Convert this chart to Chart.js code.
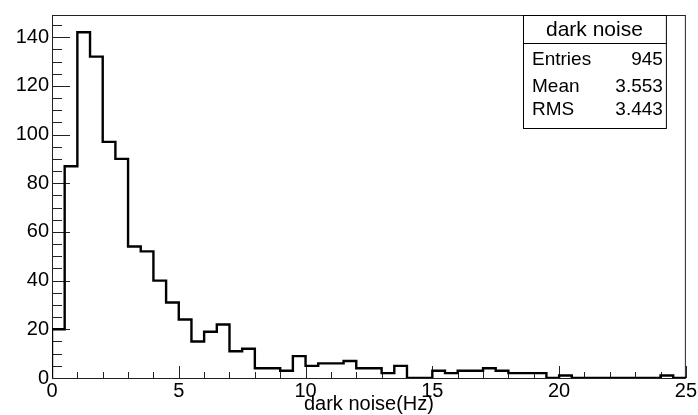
<!DOCTYPE html>
<html>
<head>
<meta charset="utf-8">
<script src="https://cdn.jsdelivr.net/npm/chart.js@4.4.0/dist/chart.umd.min.js"></script>
<style>
  html, body { margin: 0; padding: 0; background: #fff; }
  #wrap { width: 698px; height: 415px; }
</style>
</head>
<body>
<div id="wrap"><canvas id="histo" width="698" height="415"></canvas></div>
<script>
// dark noise rate histogram: 50 bins of 0.5 Hz between 0 and 25 Hz
const binLow = 0;
const binWidth = 0.5;
const counts = [20, 87, 142, 132, 97, 90, 54, 52, 40, 31,
                24, 15, 19, 22, 11, 12, 4, 4, 3, 9,
                5, 6, 6, 7, 4, 4, 2, 5, 0, 0,
                3, 2, 3, 3, 4, 3, 2, 2, 2, 0,
                1, 0, 0, 0, 0, 0, 0, 0, 1, 0];
const xTicks = [0, 5, 10, 15, 20, 25];
const yTicks = [0, 20, 40, 60, 80, 100, 120, 140];
const histTitle = 'dark noise';
const statLabels = ['Entries', 'Mean', 'RMS'];
const statValues = ['945', '3.553', '3.443'];
const xTitle = 'dark noise(Hz)';

const FONT = "'Liberation Sans', Arial, Helvetica, sans-serif";
const binHigh = binLow + binWidth * counts.length;
const yMax = Math.max(...counts) * 1.05;

// step outline: start at the baseline, then one point per bin low edge
const outline = [{ x: binLow, y: 0 }];
counts.forEach((c, i) => outline.push({ x: binLow + i * binWidth, y: c }));
outline.push({ x: binHigh, y: counts[counts.length - 1] });

// ROOT-like frame, inward ticks and the stats box
const rootStyle = {
    id: 'rootStyle',
    beforeDatasetsDraw(chart) {
        const { ctx, chartArea: a, scales: { x, y } } = chart;
        ctx.save();
        ctx.strokeStyle = '#222';
        ctx.lineWidth = 1;
        ctx.strokeRect(a.left + 0.5, a.top + 0.5, a.right - a.left - 1, a.bottom - a.top);

        ctx.beginPath();
        // x axis: major every 5, minor every 1
        for (let v = binLow; v <= binHigh; v += 1) {
            const px = Math.round(x.getPixelForValue(v)) + 0.5;
            const len = v % 5 === 0 ? 12 : 6;
            ctx.moveTo(px, a.bottom);
            ctx.lineTo(px, a.bottom - len);
        }
        // y axis: major every 20, minor every 5
        for (let v = 0; v <= yMax; v += 5) {
            const py = Math.round(y.getPixelForValue(v)) + 0.5;
            const len = v % 20 === 0 ? 18 : 10;
            ctx.moveTo(a.left, py);
            ctx.lineTo(a.left + len, py);
        }
        ctx.stroke();
        ctx.restore();
    },
    afterDraw(chart) {
        const { ctx, chartArea: a } = chart;
        const left = 523, right = a.right - 20, top = a.top, bottom = 128, sep = 43;
        ctx.save();
        ctx.fillStyle = '#fff';
        ctx.fillRect(left, top, right - left, bottom - top);
        ctx.strokeStyle = '#000';
        ctx.lineWidth = 1;
        ctx.strokeRect(left + 0.5, top + 0.5, right - left, bottom - top);
        ctx.beginPath();
        ctx.moveTo(left, sep + 0.5);
        ctx.lineTo(right, sep + 0.5);
        ctx.stroke();

        ctx.fillStyle = '#000';
        ctx.textBaseline = 'middle';
        ctx.font = '21px ' + FONT;
        ctx.textAlign = 'center';
        ctx.fillText(histTitle, (left + right) / 2, 30);

        ctx.font = '19px ' + FONT;
        const rowY = [60, 87, 110];
        statLabels.forEach((lab, i) => {
            ctx.textAlign = 'left';
            ctx.fillText(lab, left + 9, rowY[i]);
            ctx.textAlign = 'right';
            ctx.fillText(statValues[i], right - 3, rowY[i]);
        });
        ctx.restore();
    }
};

new Chart(document.getElementById('histo'), {
    type: 'line',
    data: {
        datasets: [{
            label: histTitle,
            data: outline,
            stepped: true,
            borderColor: '#000',
            borderWidth: 2.4,
            pointRadius: 0,
            fill: false,
            tension: 0
        }]
    },
    options: {
        responsive: false,
        animation: false,
        layout: { padding: { left: 0, right: 9, top: 13, bottom: 0 } },
        plugins: {
            legend: { display: false },
            tooltip: { enabled: false }
        },
        scales: {
            x: {
                type: 'linear',
                min: binLow,
                max: binHigh,
                grid: { display: false, drawTicks: false },
                border: { display: false },
                afterBuildTicks: scale => { scale.ticks = xTicks.map(v => ({ value: v })); },
                afterFit: scale => { scale.height = 37; },
                ticks: {
                    color: '#000',
                    padding: 1,
                    maxRotation: 0,
                    autoSkip: false,
                    font: { family: FONT, size: 20 }
                },
                title: {
                    display: true,
                    text: xTitle,
                    color: '#000',
                    font: { family: FONT, size: 20, lineHeight: 1 },
                    padding: { top: 0, bottom: 1 }
                }
            },
            y: {
                min: 0,
                max: yMax,
                grid: { display: false, drawTicks: false },
                border: { display: false },
                afterBuildTicks: scale => { scale.ticks = yTicks.map(v => ({ value: v })); },
                afterFit: scale => { scale.width = 52; },
                ticks: {
                    color: '#000',
                    padding: 3,
                    autoSkip: false,
                    font: { family: FONT, size: 20 }
                }
            }
        }
    },
    plugins: [rootStyle]
});
</script>
</body>
</html>
